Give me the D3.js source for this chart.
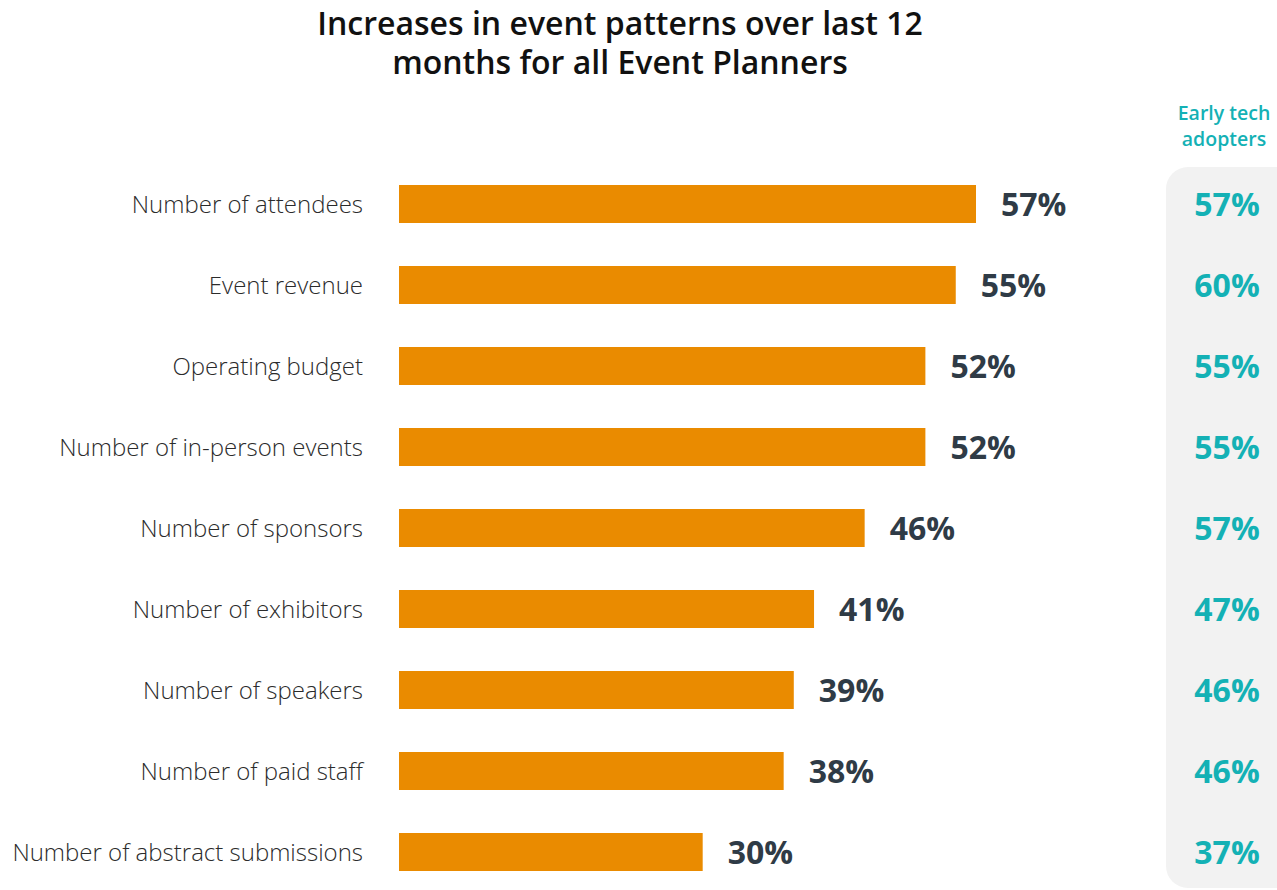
<!DOCTYPE html>
<html>
<head>
<meta charset="utf-8">
<script src="https://cdn.jsdelivr.net/npm/d3@7"></script>
<style>
  html, body { margin: 0; padding: 0; background: #ffffff; }
  svg { display: block; font-family: "Open Sans", "Noto Sans", sans-serif; }
</style>
</head>
<body>
<svg id="chart" width="1277" height="890"></svg>
<script>
// Share of event planners reporting an increase, all planners vs. early tech adopters
const categories = [
  "Number of attendees",
  "Event revenue",
  "Operating budget",
  "Number of in-person events",
  "Number of sponsors",
  "Number of exhibitors",
  "Number of speakers",
  "Number of paid staff",
  "Number of abstract submissions"
];
const allPlanners = [57, 55, 52, 52, 46, 41, 39, 38, 30];
const earlyAdopters = [57, 60, 55, 55, 57, 47, 46, 46, 37];
const titleLines = ["Increases in event patterns over last 12", "months for all Event Planners"];
const sideHeader = ["Early tech", "adopters"];

const svg = d3.select("#chart");

const x = d3.scaleLinear().domain([0, 57]).range([399, 976]);
const y = d3.scalePoint().domain(categories).range([204, 852]);
const barH = 38;

// Title
svg.append("g").selectAll("text").data(titleLines).join("text")
  .attr("x", 620)
  .attr("y", (d, i) => 22 + i * 39)
  .attr("text-anchor", "middle")
  .attr("dominant-baseline", "central")
  .attr("font-size", 32)
  .attr("font-weight", 600)
  .attr("fill", "#111111")
  .text(d => d);

// Side panel for early tech adopters
svg.append("rect")
  .attr("x", 1166).attr("y", 167)
  .attr("width", 160).attr("height", 721)
  .attr("rx", 22).attr("ry", 22)
  .attr("fill", "#f2f2f2");

// Two-line panel header
svg.append("g").selectAll("text").data(sideHeader).join("text")
  .attr("x", 1224)
  .attr("y", (d, i) => 112 + i * 26)
  .attr("text-anchor", "middle")
  .attr("dominant-baseline", "central")
  .attr("font-size", 19.5)
  .attr("font-weight", 600)
  .attr("fill", "#14b1b5")
  .text(d => d);

const rows = categories.map((c, i) => ({ c, v: allPlanners[i], e: earlyAdopters[i] }));

// Category labels
svg.append("g").selectAll("text").data(rows).join("text")
  .attr("x", 363)
  .attr("y", d => y(d.c) - 1)
  .attr("text-anchor", "end")
  .attr("dominant-baseline", "central")
  .attr("font-size", 24)
  .attr("font-weight", 300)
  .attr("fill", "#2b2b2b")
  .text(d => d.c);

// Bars
svg.append("g").selectAll("rect").data(rows).join("rect")
  .attr("x", x(0))
  .attr("y", d => y(d.c) - barH / 2)
  .attr("width", d => x(d.v) - x(0))
  .attr("height", barH)
  .attr("fill", "#ea8b00");

// Bar value labels
svg.append("g").selectAll("text").data(rows).join("text")
  .attr("x", d => x(d.v) + 25)
  .attr("y", d => y(d.c) - 1)
  .attr("dominant-baseline", "central")
  .attr("font-size", 32)
  .attr("font-weight", 700)
  .attr("fill", "#2f3b46")
  .text(d => d.v + "%");

// Early adopter values
svg.append("g").selectAll("text").data(rows).join("text")
  .attr("x", 1227)
  .attr("y", d => y(d.c) - 1)
  .attr("text-anchor", "middle")
  .attr("dominant-baseline", "central")
  .attr("font-size", 32)
  .attr("font-weight", 700)
  .attr("fill", "#14b1b5")
  .text(d => d.e + "%");
</script>
</body>
</html>
